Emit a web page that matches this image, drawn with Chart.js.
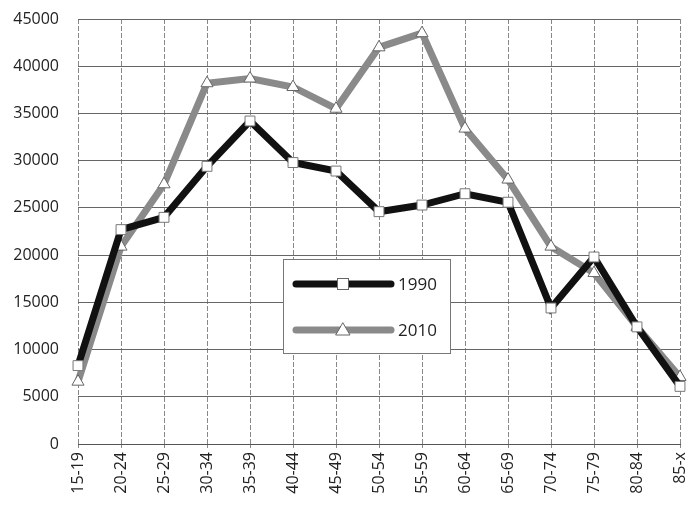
<!DOCTYPE html>
<html><head><meta charset="utf-8">
<script src="https://cdn.jsdelivr.net/npm/chart.js@4/dist/chart.umd.min.js"></script>
<style>html,body{margin:0;padding:0;background:#fff;overflow:hidden}canvas{display:block}</style>
</head><body><canvas id="c" width="688" height="505" style="width:688px;height:505px"></canvas>
<script>
const categories = ['15-19','20-24','25-29','30-34','35-39','40-44','45-49','50-54','55-59','60-64','65-69','70-74','75-79','80-84','85-x'];
const values1990 = [8300,22700,24000,29400,34200,29800,28900,24600,25300,26500,25600,14400,19800,12400,6100];
const values2010 = [6600,20900,27500,38200,38700,37800,35500,42000,43500,33400,28000,20900,18100,12400,7100];
const yTicks = [0,5000,10000,15000,20000,25000,30000,35000,40000,45000];

const legendBox = {
  id:'legendBox',
  afterDraw(chart){
    const ctx = chart.ctx;
    const x0=283,y0=259,w=167,h=94;
    ctx.save();
    ctx.fillStyle='#fff';ctx.fillRect(x0,y0,w,h);
    ctx.strokeStyle='#777';ctx.lineWidth=1;ctx.strokeRect(x0+0.5,y0+0.5,w,h);
    chart.data.datasets.forEach((ds,i)=>{
      const y=y0+25+i*46;
      ctx.strokeStyle=ds.borderColor;ctx.lineWidth=ds.borderWidth;ctx.lineCap='round';
      ctx.beginPath();ctx.moveTo(296,y);ctx.lineTo(391,y);ctx.stroke();
      ctx.fillStyle='#fff';ctx.strokeStyle='#666';ctx.lineWidth=1;
      if(ds.pointStyle==='rect'){ctx.fillRect(337,y-6,12,12);ctx.strokeRect(337.5,y-5.5,11,11);}
      else{ctx.beginPath();ctx.moveTo(343,y-7);ctx.lineTo(350,y+5);ctx.lineTo(336,y+5);ctx.closePath();ctx.fill();ctx.stroke();}
      ctx.fillStyle='#222';ctx.font='17px "Open Sans"';ctx.textBaseline='middle';ctx.textAlign='left';
      ctx.fillText(ds.label,398,y+1);
    });
    ctx.restore();
  }
};

new Chart(document.getElementById('c'),{
  type:'line',
  data:{labels:categories,datasets:[
    {label:'1990',data:values1990,borderColor:'#111',borderWidth:7,pointStyle:'rect',pointRadius:7,pointBackgroundColor:'#fff',pointBorderColor:'#777',pointBorderWidth:1,tension:0,clip:false},
    {label:'2010',data:values2010,borderColor:'#8a8a8a',borderWidth:7,pointStyle:'triangle',pointRadius:7,pointBackgroundColor:'#fff',pointBorderColor:'#666',pointBorderWidth:1,tension:0,clip:false}
  ]},
  options:{
    responsive:false,animation:false,devicePixelRatio:1,
    layout:{padding:{top:19,right:3,left:0,bottom:0}},
    plugins:{legend:{display:false},tooltip:{enabled:false}},
    scales:{
      x:{offset:false,
        grid:{color:'#888',lineWidth:1,drawTicks:true,tickLength:4},
        border:{display:true,color:'#555',dash:[5,2]},
        ticks:{color:'#222',font:{family:'"Open Sans"',size:16},minRotation:90,maxRotation:90,autoSkip:false,padding:4},
        afterFit(s){s.height=61;s.paddingRight=0;s.paddingLeft=0;}
      },
      y:{min:0,max:45000,
        afterBuildTicks(s){s.ticks=yTicks.map(v=>({value:v}));},
        grid:{color:'#666',lineWidth:1,drawTicks:false},
        border:{display:false},
        ticks:{color:'#222',font:{family:'"Open Sans"',size:16},padding:19,callback:(v)=>String(v)},
        afterFit(s){s.width=78;s.paddingTop=0;s.paddingBottom=0;}
      }
    }
  },
  plugins:[legendBox]
});
</script></body></html>
